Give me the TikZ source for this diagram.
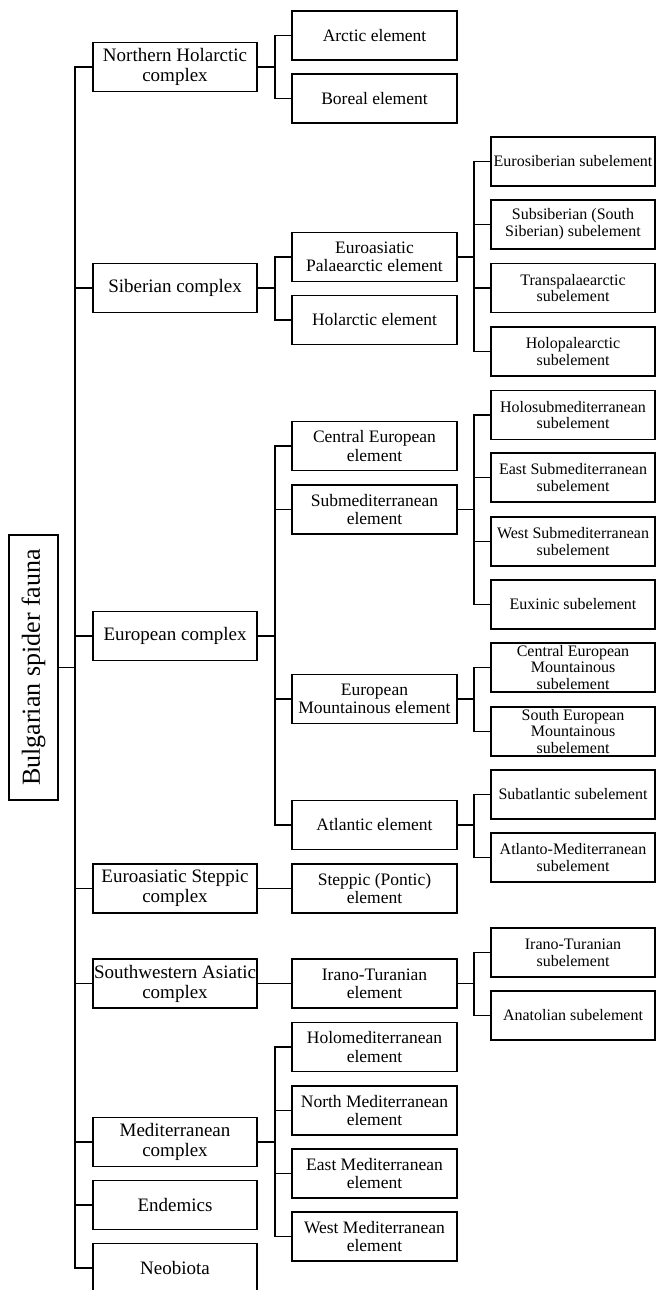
\documentclass[tikz,border=0pt]{standalone}
\usepackage{fontspec}
\setmainfont{Liberation Serif}
\usepackage{tikz}

\tikzset{
    box/.style={draw, rectangle, line width=1.9pt, align=center, inner sep=1pt, minimum height=49pt},
    rootbox/.style={box, rotate=90, minimum width=265pt, minimum height=49pt, font=\fontsize{26}{27}\selectfont},
    complexbox/.style={box, minimum width=164pt, font=\fontsize{19}{20}\selectfont},
    elementbox/.style={box, minimum width=165pt, font=\fontsize{17.5}{18.3}\selectfont},
    subbox/.style={box, minimum width=164pt, font=\fontsize{16}{16.7}\selectfont},
    link/.style={line width=1.9pt}
}

\begin{document}
\begin{tikzpicture}[x=1pt, y=-1pt]
    \useasboundingbox (0,0) rectangle (656,1290);

    % Root of the tree, turned on its side
    \node[rootbox] (root) at (33.5,667.5) {Bulgarian spider fauna};

    % Complexes
    \node[complexbox] (nhc) at (175,67) {Northern Holarctic\\complex};
    \node[complexbox] (sib) at (175,288) {Siberian complex};
    \node[complexbox] (eur) at (175,636) {European complex};
    \node[complexbox] (ste) at (175,888.5) {Euroasiatic Steppic\\complex};
    \node[complexbox] (swa) at (175,983.5) {Southwestern Asiatic\\complex};
    \node[complexbox] (med) at (175,1142) {Mediterranean\\complex};
    \node[complexbox] (endem) at (175,1205) {Endemics};
    \node[complexbox] (neo) at (175,1268) {Neobiota};

    % Elements
    \node[elementbox] (arc) at (374.5,35.5) {Arctic element};
    \node[elementbox] (bor) at (374.5,98.5) {Boreal element};
    \node[elementbox] (eup) at (374.5,257) {Euroasiatic\\Palaearctic element};
    \node[elementbox] (hol) at (374.5,320) {Holarctic element};
    \node[elementbox] (cee) at (374.5,446) {Central European\\element};
    \node[elementbox] (sme) at (374.5,509.5) {Submediterranean\\element};
    \node[elementbox] (emo) at (374.5,699) {European\\Mountainous element};
    \node[elementbox] (atl) at (374.5,825) {Atlantic element};
    \node[elementbox] (stp) at (374.5,888.5) {Steppic (Pontic)\\element};
    \node[elementbox] (irt) at (374.5,983.5) {Irano-Turanian\\element};
    \node[elementbox] (hme) at (374.5,1047) {Holomediterranean\\element};
    \node[elementbox] (nme) at (374.5,1110.5) {North Mediterranean\\element};
    \node[elementbox] (eme) at (374.5,1173.5) {East Mediterranean\\element};
    \node[elementbox] (wme) at (374.5,1236.5) {West Mediterranean\\element};

    % Subelements
    \node[subbox] (esb) at (573,161.5) {Eurosiberian subelement};
    \node[subbox] (ssb) at (573,224.5) {Subsiberian (South\\Siberian) subelement};
    \node[subbox] (tpa) at (573,288) {Transpalaearctic\\subelement};
    \node[subbox] (hpa) at (573,351.5) {Holopalearctic\\subelement};
    \node[subbox] (hsm) at (573,415) {Holosubmediterranean\\subelement};
    \node[subbox] (esm) at (573,477.5) {East Submediterranean\\subelement};
    \node[subbox] (wsm) at (573,541.5) {West Submediterranean\\subelement};
    \node[subbox] (eux) at (573,604.5) {Euxinic subelement};
    \node[subbox] (cem) at (573,667.5) {Central European\\Mountainous\\subelement};
    \node[subbox] (sem) at (573,731.5) {South European\\Mountainous\\subelement};
    \node[subbox] (sat) at (573,794.5) {Subatlantic subelement};
    \node[subbox] (ame) at (573,857.5) {Atlanto-Mediterranean\\subelement};
    \node[subbox] (its) at (573,952.5) {Irano-Turanian\\subelement};
    \node[subbox] (ana) at (573,1015.5) {Anatolian subelement};

    % Root to complexes
    \draw[link] (nhc.west) -- ++(-17,0) |- (root.south);
    \draw[link] (sib.west) -- ++(-17,0) |- (root.south);
    \draw[link] (eur.west) -- ++(-17,0) |- (root.south);
    \draw[link] (ste.west) -- ++(-17,0) |- (root.south);
    \draw[link] (swa.west) -- ++(-17,0) |- (root.south);
    \draw[link] (med.west) -- ++(-17,0) |- (root.south);
    \draw[link] (endem.west) -- ++(-17,0) |- (root.south);
    \draw[link] (neo.west) -- ++(-17,0) |- (root.south);

    % Complexes to elements
    \draw[link] (arc.west) -- ++(-16,0) |- (nhc.east);
    \draw[link] (bor.west) -- ++(-16,0) |- (nhc.east);
    \draw[link] (eup.west) -- ++(-16,0) |- (sib.east);
    \draw[link] (hol.west) -- ++(-16,0) |- (sib.east);
    \draw[link] (cee.west) -- ++(-16,0) |- (eur.east);
    \draw[link] (sme.west) -- ++(-16,0) |- (eur.east);
    \draw[link] (emo.west) -- ++(-16,0) |- (eur.east);
    \draw[link] (atl.west) -- ++(-16,0) |- (eur.east);
    \draw[link] (stp.west) -- (ste.east);
    \draw[link] (irt.west) -- (swa.east);
    \draw[link] (hme.west) -- ++(-16,0) |- (med.east);
    \draw[link] (nme.west) -- ++(-16,0) |- (med.east);
    \draw[link] (eme.west) -- ++(-16,0) |- (med.east);
    \draw[link] (wme.west) -- ++(-16,0) |- (med.east);

    % Elements to subelements
    \draw[link] (esb.west) -- ++(-16,0) |- (eup.east);
    \draw[link] (ssb.west) -- ++(-16,0) |- (eup.east);
    \draw[link] (tpa.west) -- ++(-16,0) |- (eup.east);
    \draw[link] (hpa.west) -- ++(-16,0) |- (eup.east);
    \draw[link] (hsm.west) -- ++(-16,0) |- (sme.east);
    \draw[link] (esm.west) -- ++(-16,0) |- (sme.east);
    \draw[link] (wsm.west) -- ++(-16,0) |- (sme.east);
    \draw[link] (eux.west) -- ++(-16,0) |- (sme.east);
    \draw[link] (cem.west) -- ++(-16,0) |- (emo.east);
    \draw[link] (sem.west) -- ++(-16,0) |- (emo.east);
    \draw[link] (sat.west) -- ++(-16,0) |- (atl.east);
    \draw[link] (ame.west) -- ++(-16,0) |- (atl.east);
    \draw[link] (its.west) -- ++(-16,0) |- (irt.east);
    \draw[link] (ana.west) -- ++(-16,0) |- (irt.east);
\end{tikzpicture}
\end{document}
